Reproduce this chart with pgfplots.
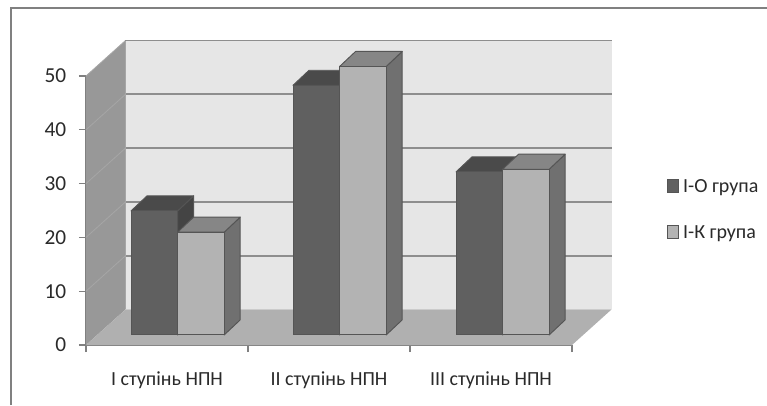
\documentclass[border=0pt]{standalone}
\usepackage{fontspec}
\setmainfont{Carlito}
\usepackage{pgfplots}
\pgfplotsset{compat=1.18}

\definecolor{wallback}{HTML}{E6E6E6}
\definecolor{wallleft}{HTML}{989898}
\definecolor{floorc}{HTML}{B0B0B0}
\definecolor{gridc}{HTML}{8E8E8E}
\definecolor{gridl}{HTML}{A6A6A6}
\definecolor{tickc}{HTML}{808080}
\definecolor{edgec}{HTML}{555555}
\definecolor{darkf}{HTML}{606060}
\definecolor{darkt}{HTML}{4A4A4A}
\definecolor{darks}{HTML}{444444}
\definecolor{lightf}{HTML}{B3B3B3}
\definecolor{lightt}{HTML}{868686}
\definecolor{lights}{HTML}{707070}
\definecolor{textc}{HTML}{2A2A2A}

% one px of the reference is .75pt here
\newlength{\px}\setlength{\px}{0.75pt}

% depth of the walls and of the bars, in axis units
\def\wdx{0.2438}\def\wdy{6.6}
\def\bdx{0.0988}\def\bdy{2.8}
\def\bbase{1.87}\def\bwid{0.2875}

% left edge, value, front, top, side
\newcommand{\barthreed}[5]{%
  \pgfmathsetmacro\xa{#1}%
  \pgfmathsetmacro\xb{#1+\bwid}%
  \pgfmathsetmacro\xc{#1+\bdx}%
  \pgfmathsetmacro\xd{#1+\bwid+\bdx}%
  \pgfmathsetmacro\yt{#2+\bbase}%
  \pgfmathsetmacro\ytt{#2+\bbase+\bdy}%
  \pgfmathsetmacro\ybb{\bbase+\bdy}%
  \addplot[forget plot, fill=#5, draw=edgec, line width=0.7pt, line join=round] coordinates {(\xb,\bbase) (\xd,\ybb) (\xd,\ytt) (\xb,\yt)} --cycle;
  \addplot[forget plot, fill=#4, draw=edgec, line width=0.7pt, line join=round] coordinates {(\xa,\yt) (\xb,\yt) (\xd,\ytt) (\xc,\ytt)} --cycle;
  \addplot[forget plot, fill=#3, draw=edgec, line width=0.7pt, line join=round] coordinates {(\xa,\bbase) (\xb,\bbase) (\xb,\yt) (\xa,\yt)} --cycle;
}
\newcommand{\gridat}[1]{%
  \pgfmathsetmacro\yb{#1+\wdy}%
  \pgfmathsetmacro\xe{3+\wdx}%
  \addplot[forget plot, draw=gridl, line width=0.6pt] coordinates {(0,#1) (\wdx,\yb)};
  \addplot[forget plot, draw=gridc, line width=1.3pt] coordinates {(\wdx,\yb) (\xe,\yb)};
}

\begin{document}
\begin{tikzpicture}
\useasboundingbox (0,0) rectangle (767\px,405\px);
\fill[white] (0,0) rectangle (767\px,405\px);
\draw[tickc, line width=1.5pt] (11\px,0) -- (11\px,397\px) -- (767\px,397\px);
\begin{axis}[
at={(86\px,60\px)},
anchor=south west,
scale only axis,
width=486\px,
height=269\px,
xmin=0, xmax=3,
ymin=0, ymax=50,
clip=false,
axis x line*=bottom,
axis y line*=left,
axis line style={draw=tickc, line width=1pt, -},
tick align=outside,
xtick={0.5,1.5,2.5},
xticklabels={I ступінь НПН,II ступінь НПН,III ступінь НПН},
minor xtick={0,1,2,3},
major x tick style={draw=none},
minor x tick style={draw=tickc, line width=1pt},
minor tick length=7\px,
major tick length=7\px,
ytick={0,10,20,30,40,50},
y tick style={draw=tickc, line width=1pt},
tick label style={text=textc, font=\fontsize{15}{17}\selectfont},
/pgf/number format/assume math mode=true,
x tick label style={yshift=-15\px},
y tick label style={xshift=-8\px, font=\fontsize{16}{18}\selectfont},
legend cell align=left,
legend style={at={(1.195,0.618)}, anchor=north west, draw=none, fill=none, inner sep=0pt,
  font=\fontsize{15}{17}\selectfont, text=textc, row sep=31\px, nodes={inner xsep=4\px, inner ysep=0pt}},
legend image code/.code={\draw[#1] (0,-5.5\px) rectangle (11\px,7\px);},
]
% walls and floor
\addplot[forget plot, fill=wallback, draw=none] coordinates {(0.2438,6.6) (3.2438,6.6) (3.2438,56.6) (0.2438,56.6)} --cycle;
\addplot[forget plot, fill=wallleft, draw=none] coordinates {(0,0) (0.2438,6.6) (0.2438,56.6) (0,50)} --cycle;
\addplot[forget plot, fill=floorc, draw=none] coordinates {(0,0) (3,0) (3.2438,6.6) (0.2438,6.6)} --cycle;
\gridat{10}\gridat{20}\gridat{30}\gridat{40}\gridat{50}
\addplot[forget plot, draw=gridl, line width=0.8pt] coordinates {(0.2438,6.6) (0.2438,56.6)};
% I
\barthreed{0.278}{23.05}{darkf}{darkt}{darks}
\barthreed{0.5655}{19.1}{lightf}{lightt}{lights}
% II
\barthreed{1.278}{46.4}{darkf}{darkt}{darks}
\barthreed{1.5655}{49.9}{lightf}{lightt}{lights}
% III
\barthreed{2.284}{30.3}{darkf}{darkt}{darks}
\barthreed{2.5715}{30.8}{lightf}{lightt}{lights}
\addlegendimage{fill=darkf, draw=edgec, line width=0.8pt}
\addlegendentry{I-О група}
\addlegendimage{fill=lightf, draw=edgec, line width=0.8pt}
\addlegendentry{I-К група}
\end{axis}
\end{tikzpicture}
\end{document}
